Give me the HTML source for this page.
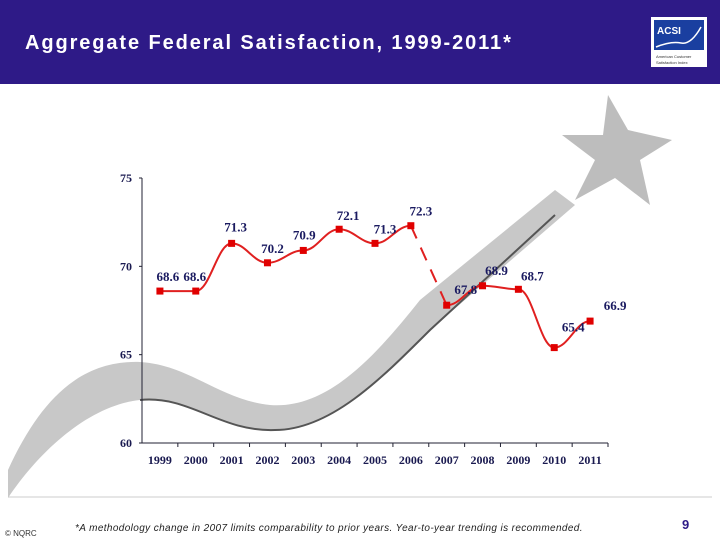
<!DOCTYPE html>
<html><head><meta charset="utf-8"><style>
body{margin:0;width:720px;height:540px;overflow:hidden;background:#fff;font-family:"Liberation Sans",sans-serif;position:relative}
#hdr{position:absolute;left:0;top:0;width:720px;height:84px;background:#2e1a87}
#title{position:absolute;left:25px;top:32px;color:#fff;font-size:20px;font-weight:bold;letter-spacing:1.9px}
#logo{position:absolute;left:651px;top:17px;width:56px;height:50px;background:#fff}
#foot{position:absolute;left:5px;top:529px;font-size:8px;color:#333}
#note{position:absolute;left:75px;top:523px;font-size:10px;font-style:italic;color:#222;letter-spacing:0.38px}
#pg{position:absolute;left:682px;top:517px;font-size:13px;color:#2e1a87;font-weight:bold}
</style></head><body>
<div id="hdr"></div>
<div id="title">Aggregate Federal Satisfaction, 1999-2011*</div>
<div id="logo"><svg width="56" height="50"><rect x="3" y="3" width="50" height="30" fill="#1a3fa0"/><text x="6" y="17" fill="#fff" font-size="10" font-weight="bold" font-family="Liberation Sans">ACSI</text><path d="M5 30 Q20 24 30 26 T50 10" stroke="#fff" fill="none" stroke-width="1.5"/><text x="5" y="41" font-size="4" fill="#333">American Customer</text><text x="5" y="47" font-size="4" fill="#333">Satisfaction Index</text></svg></div>
<svg id="chart" width="720" height="540" style="position:absolute;left:0;top:0">
<g id="deco">
<path d="M8 470 C40 400 80 360 140 362 C190 365 220 400 270 405 C330 410 380 350 420 300 L555 190 L575 205 L430 330 C380 380 330 430 275 430 C220 432 190 395 140 400 C90 405 40 450 8 498 Z" fill="#c8c8c8"/>
<path d="M140 400 C190 395 220 432 275 430 C330 430 380 380 430 330 L555 215" stroke="#555" stroke-width="2" fill="none"/>
<path d="M608 95 L628 130 L672 140 L640 160 L650 205 L615 178 L575 200 L595 160 L562 135 L603 135 Z" fill="#bdbdbd"/>
</g>
<line x1="8" y1="497" x2="712" y2="497" stroke="#ccc" stroke-width="1"/>
<g id="plot"></g>
</svg>
<div id="foot">© NQRC</div>
<div id="note">*A methodology change in 2007 limits comparability to prior years. Year-to-year trending is recommended.</div>
<div id="pg">9</div>
<script>
const years=["1999","2000","2001","2002","2003","2004","2005","2006","2007","2008","2009","2010","2011"];
const values=[68.6,68.6,71.3,70.2,70.9,72.1,71.3,72.3,67.8,68.9,68.7,65.4,66.9];
const yTicks=[60,65,70,75];
const NS="http://www.w3.org/2000/svg";
const x0=142,x1=608,yb=443,yt=178,vmin=60,vmax=75;
const bw=(x1-x0)/years.length;
const X=i=>x0+bw*(i+0.5);
const Y=v=>yb-(v-vmin)/(vmax-vmin)*(yb-yt);
const g=document.getElementById('plot');
function mk(t,a){const e=document.createElementNS(NS,t);for(const k in a)e.setAttribute(k,a[k]);g.appendChild(e);return e;}
const labelDx=[8,-1,4,5,1,9,10,10,19,14,14,19,25];
const labelDy=[-10,-10,-12,-10,-11,-9,-10,-10,-11,-11,-9,-16,-11];
let ax=mk('path',{d:`M${x0} ${yt} L${x0} ${yb} L${x1} ${yb}`,stroke:'#223',fill:'none','stroke-width':1});


yTicks.forEach(t=>{
 mk('line',{x1:x0-3,x2:x0,y1:Y(t),y2:Y(t),stroke:'#223'});
 const tx=mk('text',{x:x0-10,y:Y(t)+4,'text-anchor':'end','font-size':12,'font-weight':'bold','font-family':'Liberation Serif',fill:'#1a1a50'});
 tx.textContent=t;
 
 
});
years.forEach((yr,i)=>{
 mk('line',{x1:x0+bw*(i+1),x2:x0+bw*(i+1),y1:yb,y2:yb+4,stroke:'#223'});
 const tx=mk('text',{x:X(i),y:yb+21,'text-anchor':'middle','font-size':12,'font-weight':'bold','font-family':'Liberation Serif',fill:'#1a1a50'});
 tx.textContent=yr;
 
 
});
function seg(a,b){let d=`M${X(a)} ${Y(values[a])}`;for(let i=a;i<b;i++){const xa=X(i),xb=X(i+1),ya=Y(values[i]),yb2=Y(values[i+1]);const c=bw*0.4;d+=` C${xa+c} ${ya} ${xb-c} ${yb2} ${xb} ${yb2}`;}return d;}
let l1=mk('path',{d:seg(0,7),stroke:'#e02020','stroke-width':2,fill:'none'});


let l2=mk('path',{d:`M${X(7)} ${Y(values[7])} L${X(8)} ${Y(values[8])}`,stroke:'#e02020','stroke-width':2,fill:'none','stroke-dasharray':'14 10'});


let l3=mk('path',{d:seg(8,12),stroke:'#e02020','stroke-width':2,fill:'none'});


values.forEach((v,i)=>{
 const p=mk('rect',{x:X(i)-3.5,y:Y(v)-3.5,width:7,height:7,fill:'#e00000'});
 
 
 const t=mk('text',{x:X(i)+labelDx[i],y:Y(v)+labelDy[i],'text-anchor':'middle','font-size':13,'font-weight':'bold','font-family':'Liberation Serif',fill:'#1a1a60'});
 t.textContent=v.toFixed(1);
 
 
});
</script>
</body></html>
